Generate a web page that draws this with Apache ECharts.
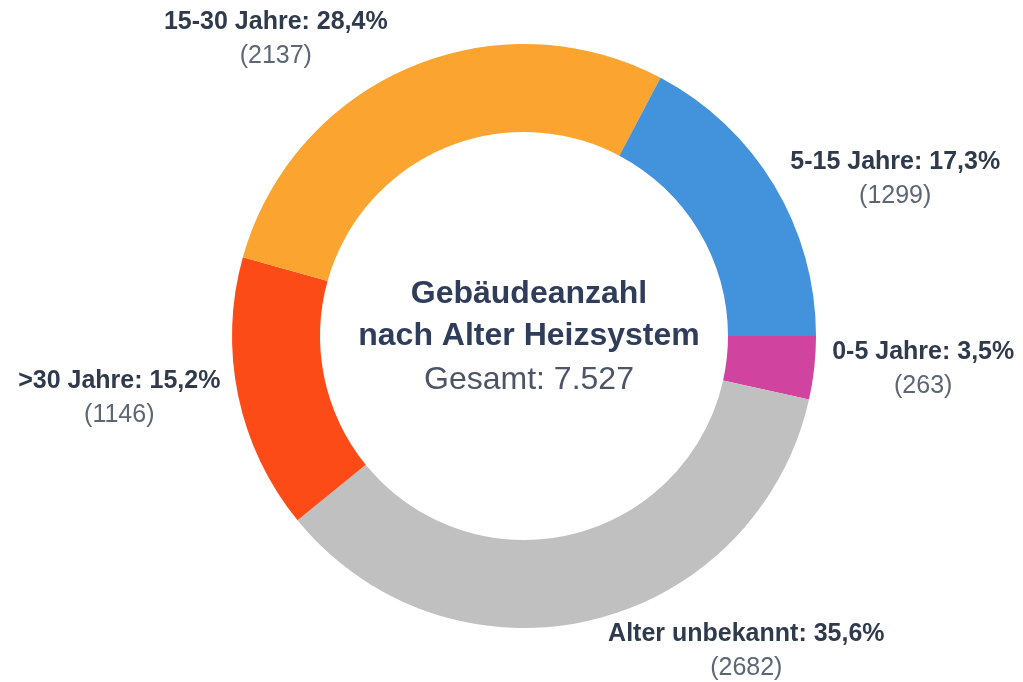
<!DOCTYPE html>
<html style="height: 100%">
    <head>
        <meta charset="utf-8">
        <title>Gebäudeanzahl nach Alter Heizsystem</title>
    </head>
    <body style="height: 100%; margin: 0; background: #ffffff">
        <div id="container" style="width: 1023px; height: 682px"></div>

        <script type="text/javascript" src="https://cdn.jsdelivr.net/npm/echarts@6/dist/echarts.min.js"></script>
        <script type="text/javascript">
// Daten, im Uhrzeigersinn ab 3 Uhr
var categories = ['0-5 Jahre', 'Alter unbekannt', '>30 Jahre', '15-30 Jahre', '5-15 Jahre'];
var counts = [263, 2682, 1146, 2137, 1299];
var colors = ['#d0439f', '#c0c0c0', '#fd4b17', '#fba42f', '#4392dc'];

var total = 0;
for (var i = 0; i < counts.length; i++) {
    total += counts[i];
}

function fmtThousands(n) {
    return String(n).replace(/\B(?=(\d{3})+(?!\d))/g, '.');
}

var pieData = [];
for (var i = 0; i < categories.length; i++) {
    pieData.push({
        name: categories[i],
        value: counts[i],
        itemStyle: { color: colors[i] }
    });
}

var cx = 524, cy = 336;

var dom = document.getElementById('container');
var myChart = echarts.init(dom, null, { renderer: 'canvas' });

var option = {
    backgroundColor: '#ffffff',
    animation: false,
    textStyle: {
        fontFamily: '"Liberation Sans", Arial, sans-serif'
    },
    title: {
        text: 'Gebäudeanzahl\nnach Alter Heizsystem',
        subtext: 'Gesamt: ' + fmtThousands(total),
        left: cx,
        top: 268,
        textAlign: 'center',
        itemGap: 2,
        textStyle: {
            fontSize: 32,
            fontWeight: 'bold',
            lineHeight: 42,
            color: '#2f3d5a',
            fontFamily: '"Liberation Sans", Arial, sans-serif'
        },
        subtextStyle: {
            fontSize: 32,
            lineHeight: 42,
            color: '#4b5566',
            fontFamily: '"Liberation Sans", Arial, sans-serif'
        }
    },
    series: [{
        type: 'pie',
        center: [cx, cy],
        radius: [204, 292],
        startAngle: 0,
        clockwise: true,
        avoidLabelOverlap: false,
        emphasis: { disabled: true },
        label: {
            show: true,
            position: 'outside',
            formatter: function (p) {
                var pct = p.percent.toFixed(1).replace('.', ',');
                return '{a|' + p.name + ': ' + pct + '%}\n{b|(' + p.value + ')}';
            },
            rich: {
                a: {
                    fontSize: 25,
                    fontWeight: 'bold',
                    color: '#2f3a4d',
                    lineHeight: 34,
                    align: 'center',
                    fontFamily: '"Liberation Sans", Arial, sans-serif'
                },
                b: {
                    fontSize: 25,
                    color: '#5d6675',
                    lineHeight: 34,
                    align: 'center',
                    fontFamily: '"Liberation Sans", Arial, sans-serif'
                }
            }
        },
        labelLine: {
            show: false,
            length: 13,
            length2: 0
        },
        // labels near top/bottom sit a bit further out
        labelLayout: function (params) {
            var r = params.labelRect;
            var my = r.y + r.height / 2 - cy;
            var mx = r.x + r.width / 2 - cx;
            if (Math.abs(my) > 250) {
                return {
                    dx: mx < 0 ? -11 : 9,
                    dy: my < 0 ? -17 : 18
                };
            }
            return {};
        },
        data: pieData
    }]
};

myChart.setOption(option);
        </script>
    </body>
</html>
